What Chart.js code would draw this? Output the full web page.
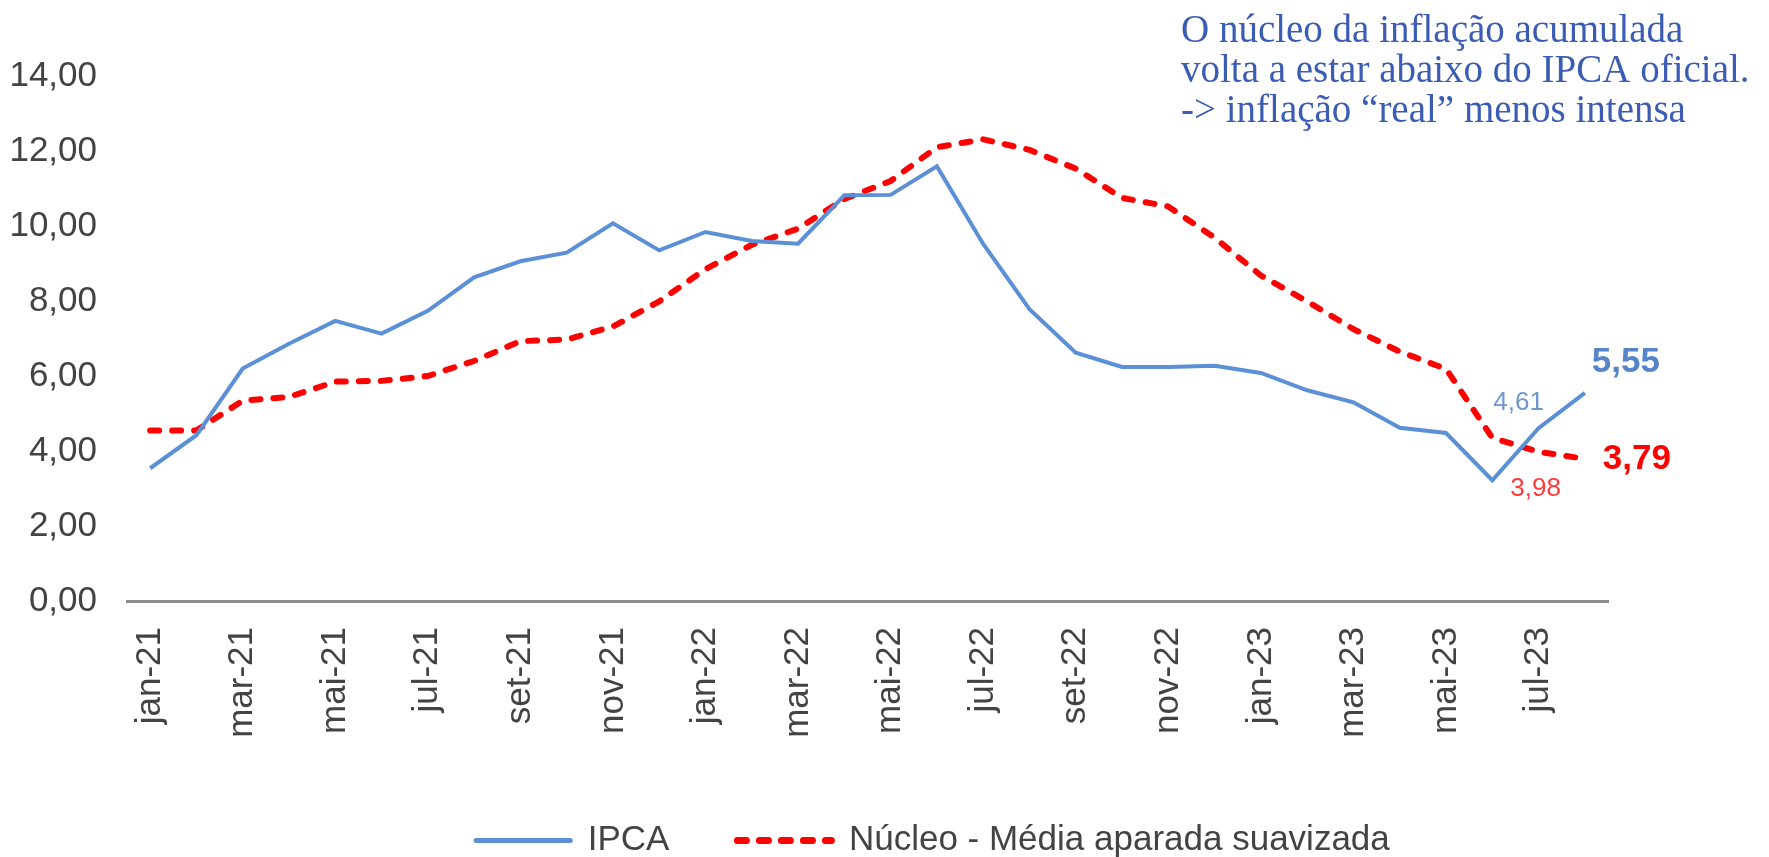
<!DOCTYPE html>
<html lang="pt-BR">
<head>
<meta charset="utf-8">
<title>IPCA x Núcleo</title>
<script src="https://cdn.jsdelivr.net/npm/chart.js@4.4.0/dist/chart.umd.min.js"></script>
<style>
  html, body { margin: 0; padding: 0; background: #fff; }
  #wrap { width: 1769px; height: 857px; }
</style>
</head>
<body>
<div id="wrap"><canvas id="chart" width="1769" height="857"></canvas></div>
<script>
const months = [
  'jan-21', 'fev-21', 'mar-21', 'abr-21', 'mai-21', 'jun-21', 'jul-21', 'ago-21',
  'set-21', 'out-21', 'nov-21', 'dez-21', 'jan-22', 'fev-22', 'mar-22', 'abr-22',
  'mai-22', 'jun-22', 'jul-22', 'ago-22', 'set-22', 'out-22', 'nov-22', 'dez-22',
  'jan-23', 'fev-23', 'mar-23', 'abr-23', 'mai-23', 'jun-23', 'jul-23', 'ago-23'
];

const ipca = [
  3.54, 4.42, 6.20, 6.86, 7.47, 7.13, 7.74, 8.63,
  9.06, 9.29, 10.07, 9.35, 9.84, 9.60, 9.53, 10.82,
  10.83, 11.59, 9.52, 7.78, 6.62, 6.24, 6.24, 6.27,
  6.08, 5.62, 5.30, 4.62, 4.48, 3.22, 4.61, 5.55
];

const nucleo = [
  4.55, 4.55, 5.34, 5.44, 5.85, 5.87, 6.00, 6.40,
  6.93, 6.97, 7.32, 7.99, 8.85, 9.50, 9.93, 10.72,
  11.20, 12.10, 12.31, 12.03, 11.53, 10.75, 10.52, 9.69,
  8.68, 7.99, 7.25, 6.65, 6.19, 4.35, 3.98, 3.79
];

const seriesNames = ['IPCA', 'Núcleo - Média aparada suavizada'];

const noteLines = [
  'O núcleo da inflação acumulada',
  'volta a estar abaixo do IPCA oficial.',
  '-> inflação \u201creal\u201d menos intensa'
];

const BLUE = '#5b8fd6';
const RED = '#ff0000';
const TEXT = '#434343';
const FONT = "'Liberation Sans', Arial, sans-serif";
const FONT_SIZE = 35;

const fmt = (v) => v.toFixed(2).replace('.', ',');

// labels on the last points, offsets in px from the point
const valueLabels = {
  id: 'valueLabels',
  afterDatasetsDraw(chart) {
    const { ctx } = chart;
    const specs = [
      { ds: 0, i: 30, dx: -20, dy: -25, font: `26px ${FONT}`, color: '#6f95cf' },
      { ds: 1, i: 30, dx: -3, dy: 37, font: `26px ${FONT}`, color: '#ff3b3b' },
      { ds: 0, i: 31, dx: 41, dy: -31, font: `bold 35px ${FONT}`, color: '#5584c9' },
      { ds: 1, i: 31, dx: 52, dy: 0, font: `bold 35px ${FONT}`, color: RED }
    ];
    specs.forEach((s) => {
      const pt = chart.getDatasetMeta(s.ds).data[s.i];
      const v = chart.data.datasets[s.ds].data[s.i];
      ctx.save();
      ctx.font = s.font;
      ctx.fillStyle = s.color;
      ctx.textAlign = 'center';
      ctx.textBaseline = 'middle';
      ctx.fillText(fmt(v), pt.x + s.dx, pt.y + s.dy);
      ctx.restore();
    });
  }
};

const note = {
  id: 'note',
  afterDraw(chart) {
    const { ctx } = chart;
    ctx.save();
    ctx.font = "39px 'Liberation Serif', 'Times New Roman', serif";
    ctx.fillStyle = '#3a5cb4';
    ctx.textAlign = 'left';
    ctx.textBaseline = 'alphabetic';
    noteLines.forEach((line, i) => ctx.fillText(line, 1181, 42 + i * 40));
    ctx.restore();
  }
};

// the legend in the original sits right of centre and a bit lower
const legendShift = {
  id: 'legendShift',
  afterLayout(chart) {
    const lg = chart.legend;
    lg.left += 129;
    lg.right += 129;
    lg.top += 14;
    lg.bottom += 14;
  }
};

const legendItems = (chart) => Chart.defaults.plugins.legend.labels.generateLabels(chart)
  .map((item, i) => {
    const ds = chart.data.datasets[i];
    return {
      ...item,
      lineDash: ds.borderDash || [],
      lineCap: 'round',
      lineWidth: ds.borderWidth + 1,
      strokeStyle: ds.borderColor
    };
  });

new Chart(document.getElementById('chart'), {
  type: 'line',
  data: {
    labels: months,
    datasets: [
      {
        label: seriesNames[0],
        data: ipca,
        borderColor: BLUE,
        backgroundColor: BLUE,
        borderWidth: 4,
        pointRadius: 0,
        tension: 0
      },
      {
        label: seriesNames[1],
        data: nucleo,
        borderColor: RED,
        backgroundColor: RED,
        borderWidth: 6,
        borderDash: [9, 13],
        borderCapStyle: 'round',
        pointRadius: 0,
        tension: 0
      }
    ]
  },
  options: {
    responsive: false,
    animation: false,
    devicePixelRatio: 1,
    layout: { padding: { left: 0, right: 161, top: 76, bottom: 3 } },
    plugins: {
      legend: {
        position: 'bottom',
        labels: {
          usePointStyle: true,
          pointStyle: 'line',
          pointStyleWidth: 94,
          boxHeight: 10,
          padding: 68,
          color: TEXT,
          font: { family: FONT, size: FONT_SIZE },
          generateLabels: legendItems
        }
      },
      tooltip: { enabled: false }
    },
    scales: {
      x: {
        offset: true,
        grid: { display: true, drawOnChartArea: false, drawTicks: false },
        border: { display: true, color: '#8c8c8c', width: 3 },
        ticks: {
          autoSkip: false,
          minRotation: 90,
          maxRotation: 90,
          padding: 26,
          color: TEXT,
          font: { family: FONT, size: FONT_SIZE },
          callback: (value, index) => (index % 2 === 0 ? months[index] : '')
        },
        afterFit: (scale) => { scale.height = 140; }
      },
      y: {
        min: 0,
        max: 14,
        grid: { display: false, drawTicks: false },
        border: { display: false },
        ticks: {
          stepSize: 2,
          padding: 30,
          color: TEXT,
          font: { family: FONT, size: FONT_SIZE },
          callback: (value) => fmt(value)
        },
        afterFit: (scale) => { scale.width = 127; }
      }
    }
  },
  plugins: [valueLabels, note, legendShift]
});
</script>
</body>
</html>
